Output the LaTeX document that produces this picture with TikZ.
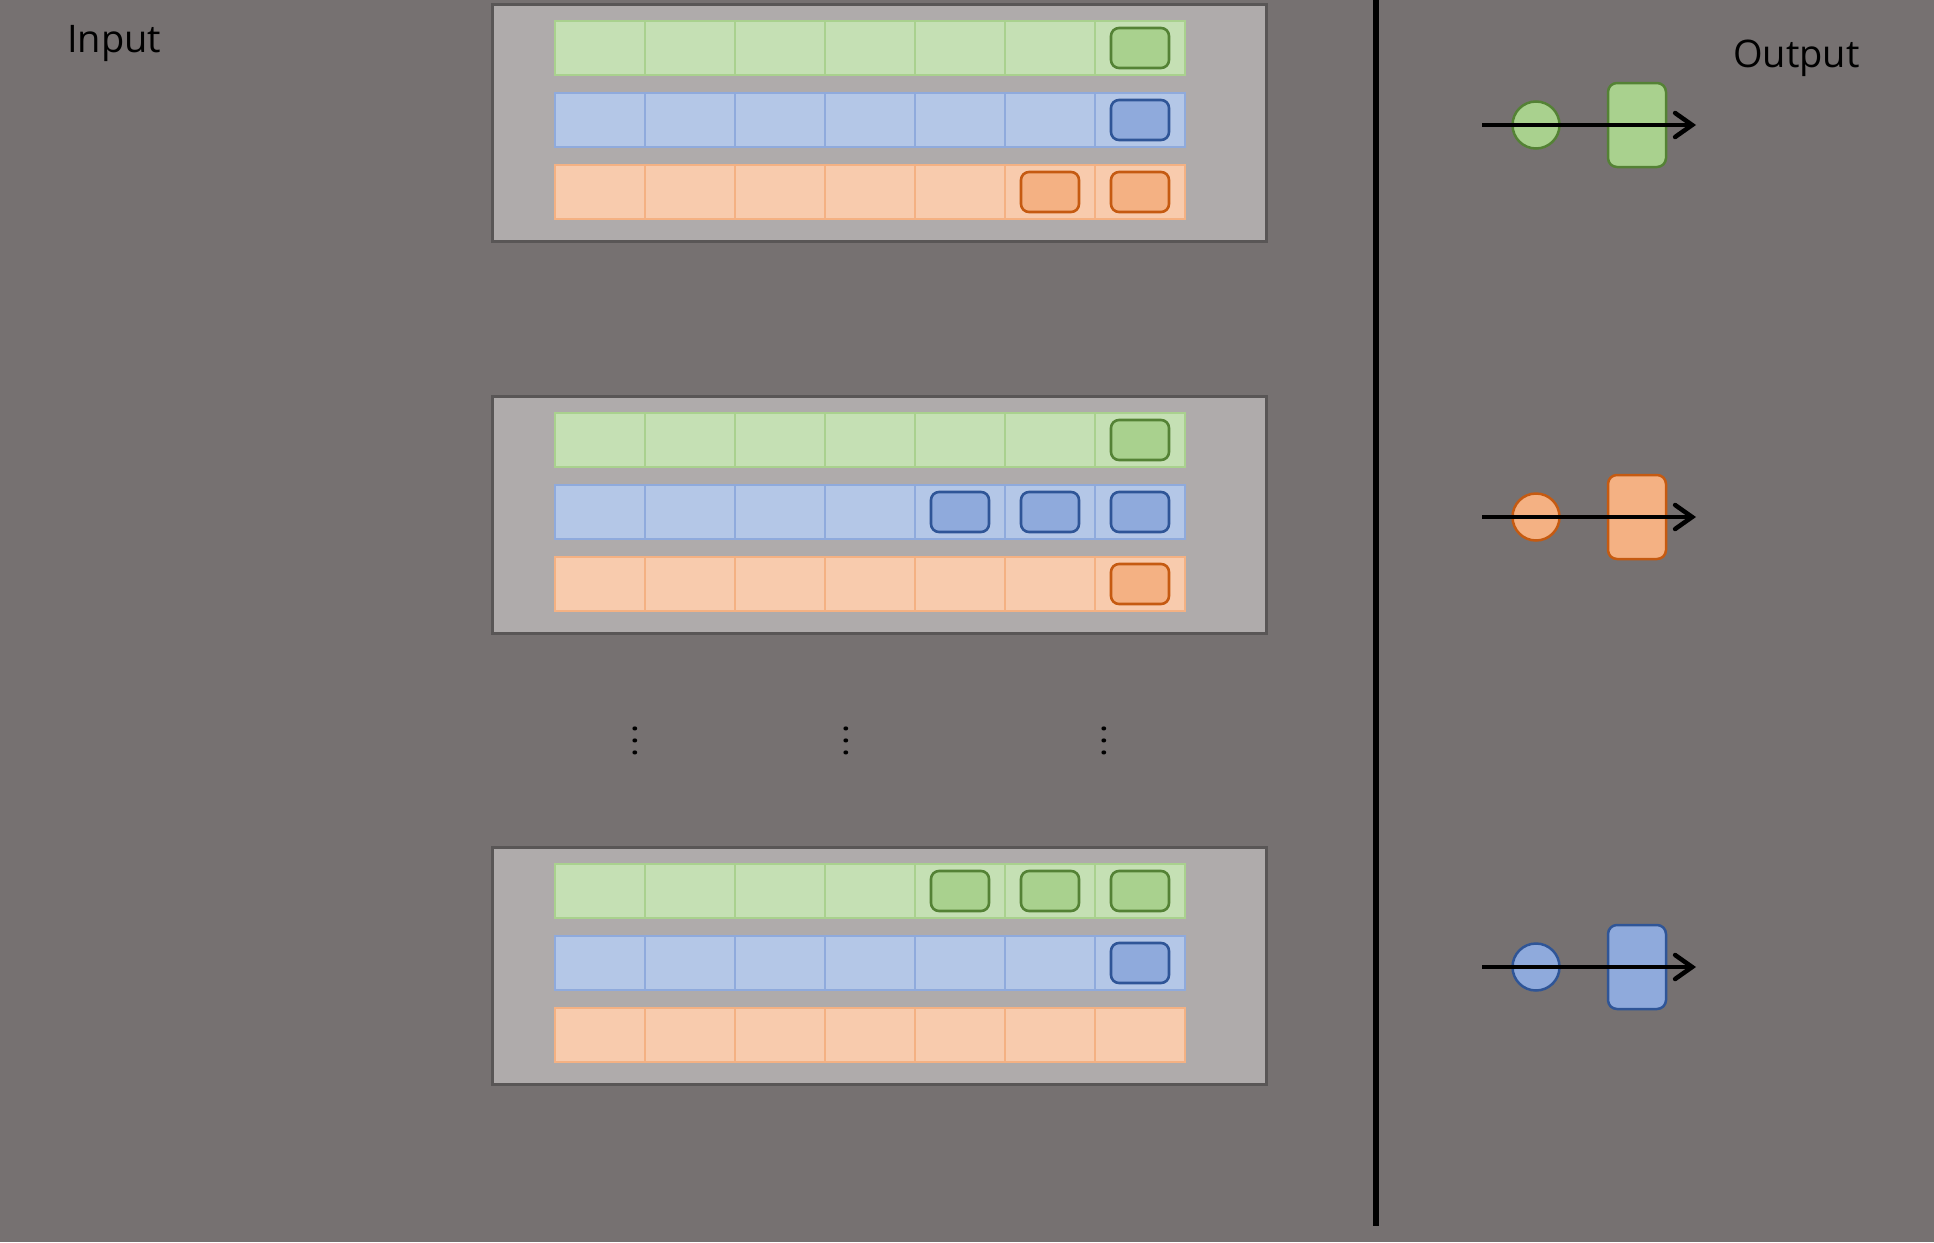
\documentclass[tikz,border=0pt]{standalone}
\usepackage{fontspec}
\setmainfont{Open Sans}
\usetikzlibrary{arrows.meta}
\definecolor{bg}{HTML}{767171}
\definecolor{panelfill}{HTML}{AFABAB}
\definecolor{panelborder}{HTML}{595656}
\definecolor{gL}{HTML}{C5E0B4}
\definecolor{gB}{HTML}{A9D18E}
\definecolor{gM}{HTML}{A9D18E}
\definecolor{gD}{HTML}{548235}
\definecolor{bL}{HTML}{B4C7E7}
\definecolor{bB}{HTML}{8FAADC}
\definecolor{bM}{HTML}{8FAADC}
\definecolor{bD}{HTML}{2F5597}
\definecolor{oL}{HTML}{F8CBAD}
\definecolor{oB}{HTML}{F4B183}
\definecolor{oM}{HTML}{F4B183}
\definecolor{oD}{HTML}{C55A11}
\begin{document}
\begin{tikzpicture}[x=1pt,y=-1pt,
  cell/.style={draw=#1B, fill=#1L, line width=2.5pt, minimum width=90pt, minimum height=54pt, inner sep=0pt, outer sep=0pt},
  hl/.style={draw=#1D, fill=#1M, line width=2.6pt, rounded corners=8pt, minimum width=58pt, minimum height=40pt, inner sep=0pt},
  panel/.style={draw=panelborder, fill=panelfill, line width=3pt, minimum width=774pt, minimum height=237pt, inner sep=0pt, anchor=north west},
  token/.style={circle, draw=#1D, fill=#1M, line width=2.5pt, minimum size=47pt, inner sep=0pt},
  block/.style={draw=#1D, fill=#1M, line width=2.5pt, rounded corners=9pt, minimum width=58pt, minimum height=84pt, inner sep=0pt},
  flow/.style={line width=4.5pt, -{Straight Barb[length=17pt, width=24pt, line cap=round]}},
  label/.style={font=\fontsize{38}{44}\selectfont, text=black, inner sep=0pt, anchor=base west},
  vdotsnode/.style={xscale=4, yscale=3, inner sep=0pt, anchor=base, text=black}
]
\useasboundingbox (0,0) rectangle (1934,1242);
\fill[bg] (0,0) rectangle (1934,1242);

% panels
\foreach \p/\T in {1/3,2/395,3/846} {
  \node[panel] (P\p) at (491,\T) {};
  \foreach \c [count=\r from 0] in {g,b,o} {
    \foreach \i in {1,...,7} {
      \node[cell=\c] (c\p\c\i) at ({600+90*(\i-1)}, {\T+45+72*\r}) {};
    }
  }
}
% highlighted tokens
\foreach \p/\c/\i in {1/g/7,1/b/7,1/o/6,1/o/7,2/g/7,2/b/5,2/b/6,2/b/7,2/o/7,3/g/5,3/g/6,3/g/7,3/b/7} {
  \node[hl=\c] (h\p\c\i) at (c\p\c\i) {};
}

% dots
\node[vdotsnode] (d1) at (635,754) {$\vdots$};
\node[vdotsnode] (d2) at (846,754) {$\vdots$};
\node[vdotsnode] (d3) at (1104,754) {$\vdots$};

% separator
\coordinate (vt) at (1376,0);
\coordinate (vb) at (1376,1226);
\draw[line width=6pt, black] (vt) -- (vb);

% labels
\node[label] (input) at (67,52) {Input};
\node[label] (output) at (1733,67) {Output};

% outputs
\foreach \c/\y in {g/125,o/517,b/967} {
  \node[token=\c] (t\c) at (1536,\y) {};
  \node[block=\c] (k\c) at (1637,\y) {};
  \coordinate (s\c) at (1482,\y);
  \coordinate (e\c) at (1696,\y);
  \draw[flow] (s\c) -- (e\c);
}
\end{tikzpicture}
\end{document}
